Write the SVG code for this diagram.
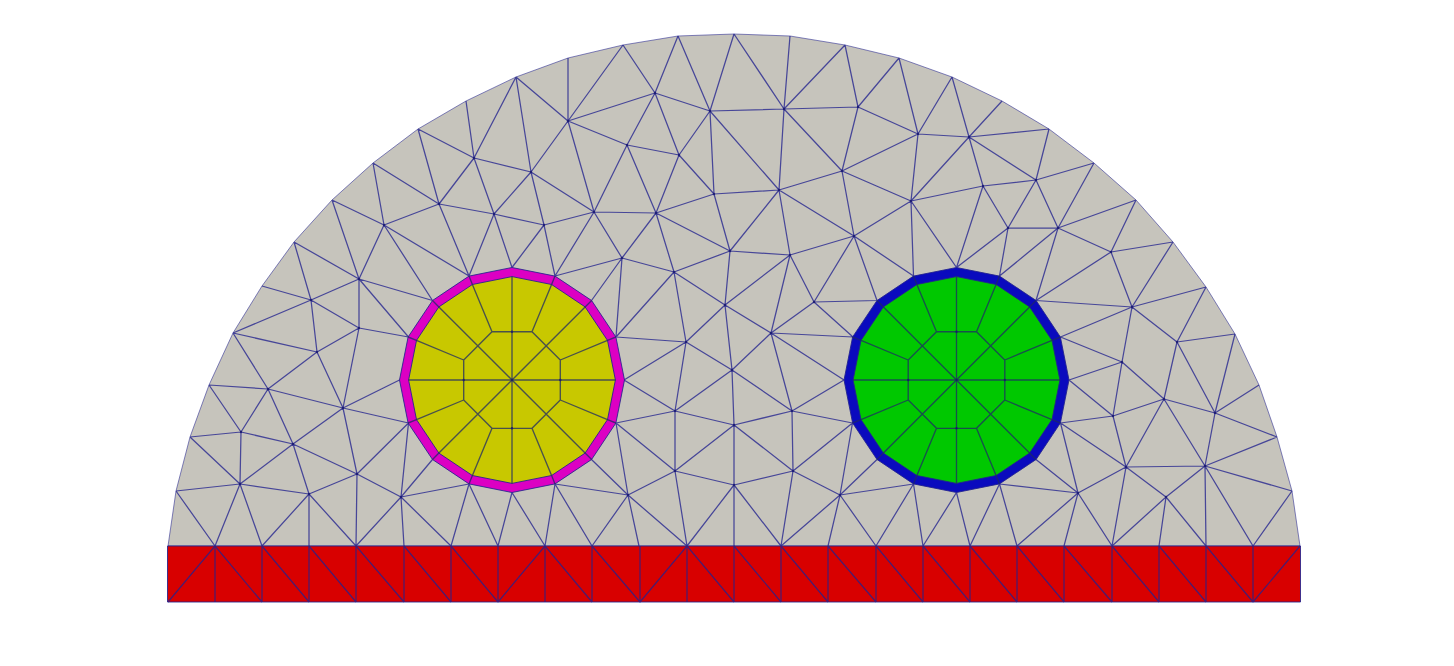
<svg xmlns="http://www.w3.org/2000/svg" width="1454" height="666" viewBox="0 0 1454 666">
<style>
.mesh{fill:none;stroke:#22228e;stroke-width:1.25;stroke-opacity:.78;stroke-linejoin:round}
.edge{stroke:#22228e;stroke-width:1;stroke-opacity:.85;stroke-linejoin:round}
.rim{stroke:#22228e;stroke-width:1;stroke-opacity:.55;stroke-linejoin:round}
.core{fill:none;stroke:#1f2a66;stroke-width:1.35;stroke-opacity:.75}
.dot{fill:none;stroke:#14146e;stroke-width:2.4;stroke-linecap:round;stroke-opacity:.8}
</style>
<defs>
<polygon id="ring-outer" points="112.5,0 103.9,-43 79.6,-79.5 43,-103.9 0,-112.5 -43,-103.9 -79.5,-79.5 -103.9,-43 -112.5,0 -103.9,43 -79.5,79.5 -43,103.9 0,112.5 43,103.9 79.6,79.5 103.9,43"/>
<polygon id="ring-inner" points="103.4,0 95.5,-39.6 73.1,-73.1 39.6,-95.5 0,-103.4 -39.6,-95.5 -73.1,-73.1 -95.5,-39.6 -103.4,0 -95.5,39.6 -73.1,73.1 -39.6,95.5 0,103.4 39.6,95.5 73.1,73.1 95.5,39.6"/>
<path id="core-lines" d="M-20-48.3H20L48.3-20V20L20 48.3H-20L-48.3 20V-20Z M0-103.4V103.4 M-103.4 0H103.4 M-73.1-73.1L73.1 73.1 M73.1-73.1L-73.1 73.1 M-20-48.3L-39.6-95.5 M20-48.3L39.6-95.5 M48.3-20L95.5-39.6 M48.3 20L95.5 39.6 M20 48.3L39.6 95.5 M-20 48.3L-39.6 95.5 M-48.3 20L-95.5 39.6 M-48.3-20L-95.5-39.6 M39.6-95.5L43-103.9 M-39.6-95.5L-43-103.9 M73.1-73.1L79.6-79.5 M-73.1-73.1L-79.5-79.5 M95.5-39.6L103.9-43 M-95.5-39.6L-103.9-43 M95.5 39.6L103.9 43 M-95.5 39.6L-103.9 43 M73.1 73.1L79.6 79.5 M-73.1 73.1L-79.5 79.5 M39.6 95.5L43 103.9 M-39.6 95.5L-43 103.9"/>
<path id="core-dots" d="M0 0h0M0-48.3h0M0 48.3h0M48.3 0h0M-48.3 0h0"/>
</defs>
<rect width="1454" height="666" fill="#ffffff"/>
<g id="dome">
<polygon class="rim" fill="#c6c4bc" points="168,546 176,491 190,437 209,385 233,333 262,286 294,242 332,200 373,163 418,129 466,101 516,77 568,58 623,45 678,36 734,34 790,36 845,45 899,58 952,77 1002,101 1049,129 1094,163 1136,200 1173,242 1206,287 1235,334 1259,385 1277,437 1292,491 1300,546"/>
<path class="mesh" d="M516 77L531 172M466 101L474 158M516 77L474 158M418 129L474 158M418 129L439 204M474 158L439 204M474 158L531 172M474 158L494 214M531 172L494 214M531 172L544 225M439 204L494 214M494 214L544 225M373 163L439 204M373 163L384 225M332 200L384 225M332 200L359 279M384 225L439 204M384 225L359 279M384 225L432.5 300.5M384 225L469 276M439 204L469 276M494 214L469 276M494 214L512 267.5M544 225L512 267.5M544 225L555 276M294 242L359 279M294 242L311 300M262 286L311 300M359 279L311 300M359 279L432.5 300.5M359 279L359 328M359 279L408.5 337M311 300L317 352M311 300L359 328M311 300L233 333M516 77L568 121M531 172L568 121M531 172L594 212M544 225L594 212
M568 121L568 58M568 121L623 45M623 45L655 93M655 93L678 36M678 36L710 111M710 111L734 34M734 34L784 109M784 109L790 36M784 109L845 45M845 45L858 107M858 107L899 58M858 107L918 134M899 58L918 134M952 77L918 134M568 121L655 93M655 93L710 111M710 111L784 109M784 109L858 107M568 121L627 145M627 145L655 93M655 93L679 155M627 145L679 155M710 111L679 155M710 111L714 194M710 111L779 190M679 155L714 194M714 194L779 190M784 109L779 190M784 109L842 171M858 107L842 171M842 171L918 134M779 190L842 171M842 171L911 201M918 134L911 201M568 121L594 212M627 145L594 212M627 145L656 213M679 155L656 213M594 212L656 213M656 213L714 194M714 194L730 251M779 190L730 251M779 190L790 255M779 190L854 236M842 171L854 236M911 201L854 236M911 201L913.5 276M594 212L622 258M656 213L622 258M656 213L674 272M656 213L730 251M730 251L790 255M730 251L674 272M790 255L854 236M622 258L555 276M594 212L555 276M622 258L591.5 300.5M622 258L674 272M674 272L725 305M730 251L725 305M790 255L725 305M790 255L814 302M854 236L814 302M854 236L877 300.5M854 236L913.5 276M814 302L877 300.5M622 258L616 337M674 272L616 337M674 272L686 342M725 305L732 370M725 305L686 342M790 255L771 333M814 302L771 333M814 302L853 337
M725 305L771 333M686 342L616 337M771 333L853 337M686 342L624 380M686 342L675 411M686 342L732 370M732 370L675 411M732 370L771 333M732 370L734 425M732 370L792 411M771 333L792 411M771 333L844 380M792 411L844 380M792 411L852.5 423M792 411L734 425M792 411L793 471M624 380L675 411M675 411L616 423M675 411L734 425M675 411L675 471M616 423L675 471M616 423L628 495M591.5 459.5L628 495M555 484L628 495M734 425L675 471M734 425L793 471M734 425L734 485M675 471L734 485M734 485L793 471M675 471L628 495M793 471L840 495M793 471L852.5 423M852.5 423L840 495M877 459.5L840 495M913.5 484L840 495M675 471L687 546M628 495L687 546M628 495L639 546M628 495L592 546M555 484L592 546M555 484L545 546M734 485L687 546M734 485L734 546M734 485L781 546M793 471L781 546M840 495L781 546M840 495L828 546M840 495L876 546M913.5 484L876 546M913.5 484L923 546
M233 333L317 352M233 333L268 389M209 385L268 389M209 385L241 432M268 389L241 432M268 389L317 352M317 352L359 328M317 352L343 408M359 328L343 408M359 328L408.5 337M343 408L268 389M343 408L399.5 380M343 408L408.5 423M268 389L293 444M343 408L293 444M241 432L293 444M190 437L241 432M190 437L240 484M241 432L240 484M293 444L240 484M293 444L309 494M293 444L357 474M343 408L357 474M408.5 423L357 474M357 474L309 494M240 484L309 494M357 474L401 497M408.5 423L401 497M432.5 459.5L401 497M469 484L401 497M176 491L240 484M176 491L215 546M240 484L215 546M240 484L262 546M309 494L262 546M309 494L309 546M309 494L356 546M357 474L356 546M401 497L356 546M401 497L404 546M401 497L451 546M469 484L451 546M469 484L498 546M512 492.5L498 546M512 492.5L545 546
M952 77L969 137M1002 101L969 137M918 134L969 137M969 137L1049 129M969 137L983 186M969 137L1036 180M969 137L911 201M983 186L911 201M983 186L1036 180M983 186L1008 228M983 186L956.5 267.5M1036 180L1049 129M1036 180L1094 163M1036 180L1008 228M1036 180L1058 228M1008 228L1058 228M1094 163L1058 228M1058 228L1136 200M1058 228L1111 252M1136 200L1111 252M1111 252L1173 242M1111 252L1132 307M1173 242L1132 307M1132 307L1206 287M1132 307L1177 342M1206 287L1177 342M1235 334L1177 342M1058 228L999.5 276M1058 228L1036 300.5M1008 228L956.5 267.5M1008 228L999.5 276M1111 252L1036 300.5M1036 300.5L1132 307M1132 307L1060.5 337M911 201L956.5 267.5
M1132 307L1122 362M1060.5 337L1122 362M1177 342L1164 399M1177 342L1215 413M1235 334L1215 413M1122 362L1069 380M1122 362L1164 399M1122 362L1113 416M1069 380L1113 416M1060.5 423L1113 416M1113 416L1164 399M1164 399L1215 413M1164 399L1126 467M1164 399L1205 466M1113 416L1126 467M1060.5 423L1126 467M1060.5 423L1078 493M1215 413L1205 466M1215 413L1259 385M1215 413L1277 437M1205 466L1277 437M1205 466L1292 491M1126 467L1205 466M1126 467L1078 493M1126 467L1166 497M1205 466L1166 497M1036 459.5L1078 493M999.5 484L1078 493M1078 493L1017 546M1078 493L1064 546M1078 493L1112 546M1126 467L1112 546M1166 497L1112 546M1166 497L1159 546M1166 497L1206 546M1205 466L1206 546M1205 466L1253 546M1292 491L1253 546M999.5 484L1017 546M999.5 484L970 546M956.5 492.5L970 546M956.5 492.5L923 546"/>
</g>
<g id="strip">
<rect class="edge" x="167.5" y="546" width="1133" height="56" fill="#d80000"/>
<path class="mesh" d="M215 546V602M262 546V602M309 546V602M356 546V602M404 546V602M451 546V602M498 546V602M545 546V602M592 546V602M640 546V602M687 546V602M734 546V602M781 546V602M828 546V602M876 546V602M923 546V602M970 546V602M1017 546V602M1064 546V602M1112 546V602M1159 546V602M1206 546V602M1253 546V602
M168 602L215 546M215 546L262 602M262 546L309 602M309 546L356 602M356 546L404 602M404 546L451 602M451 546L498 602M498 602L545 546M545 546L592 602M592 546L640 602M640 602L687 546M687 546L734 602M734 546L781 602M781 546L828 602M828 546L876 602M876 546L923 602M923 546L970 602M970 546L1017 602M1017 546L1064 602M1064 546L1112 602M1112 546L1159 602M1159 546L1206 602M1206 546L1253 602M1253 602L1300 546"/>
</g>
<g id="left-circle" transform="translate(512 380)">
<use href="#ring-outer" fill="#dc00c3" class="edge"/>
<use href="#ring-inner" fill="#c8c800" class="edge"/>
<use href="#core-lines" class="core"/>
<use href="#core-dots" class="dot"/>
</g>
<g id="right-circle" transform="translate(956.5 380)">
<use href="#ring-outer" fill="#0a0abe" class="edge"/>
<use href="#ring-inner" fill="#00c800" class="edge"/>
<use href="#core-lines" class="core"/>
<use href="#core-dots" class="dot"/>
</g>
<path id="mesh-nodes" class="dot" d="M531 172h0M474 158h0M439 204h0M494 214h0M544 225h0M384 225h0M359 279h0M311 300h0M568 121h0M655 93h0M710 111h0M784 109h0M858 107h0M918 134h0M627 145h0M679 155h0M714 194h0M779 190h0M842 171h0M911 201h0M594 212h0M656 213h0M730 251h0M790 255h0M854 236h0M622 258h0M674 272h0M725 305h0M814 302h0M686 342h0M732 370h0M771 333h0M675 411h0M734 425h0M792 411h0M675 471h0M734 485h0M793 471h0M628 495h0M840 495h0M359 328h0M317 352h0M268 389h0M343 408h0M241 432h0M293 444h0M240 484h0M357 474h0M309 494h0M401 497h0M969 137h0M983 186h0M1036 180h0M1008 228h0M1058 228h0M1111 252h0M1132 307h0M1177 342h0M1122 362h0M1164 399h0M1215 413h0M1113 416h0M1126 467h0M1205 466h0M1078 493h0M1166 497h0"/>
</svg>
